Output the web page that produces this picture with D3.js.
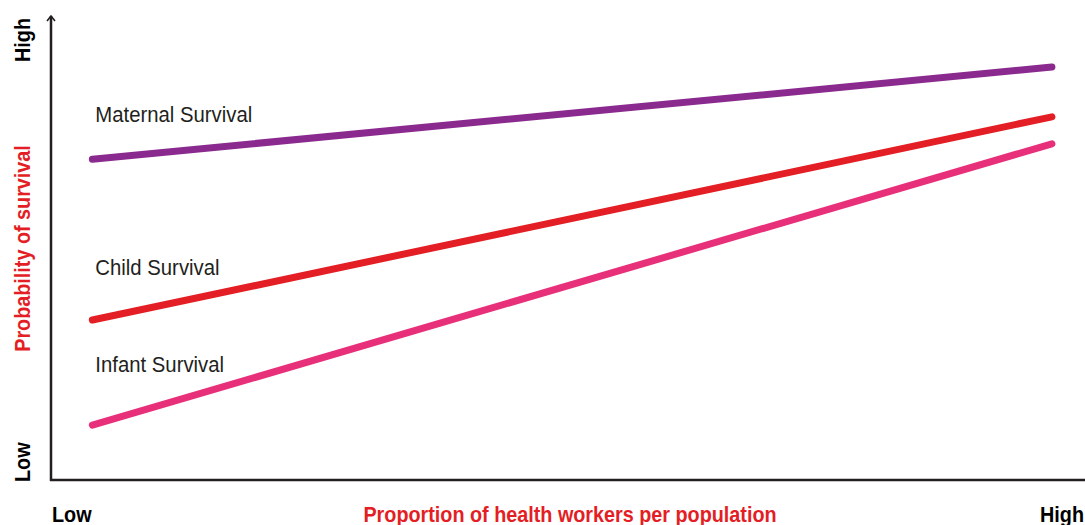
<!DOCTYPE html>
<html>
<head>
<meta charset="utf-8">
<script src="https://cdn.jsdelivr.net/npm/d3@7"></script>
<style>
  body { margin: 0; background: #fff; }
  text { font-family: 'Liberation Sans', Arial, sans-serif; }
</style>
</head>
<body>
<script>
const w = 1085
const h = 525

// two levels on the x axis: low and high workforce density
const xLevels = [0.04, 0.968]
const seriesNames = ['Maternal Survival', 'Child Survival', 'Infant Survival']
const maternal = [0.69, 0.888]
const child = [0.344, 0.781]
const infant = [0.118, 0.723]
const colors = ['#8b2a8e', '#e31e24', '#e8307a']
const labelY = [0.77, 0.441, 0.232]

const xScale = d3.scaleLinear().domain([0, 1]).range([51, 1085])
const yScale = d3.scaleLinear().domain([0, 1]).range([480, 15])

const svg = d3.select('body').append('svg').attr('width', w).attr('height', h)

// axes
svg.append('line')
  .attr('x1', xScale(0)).attr('x2', xScale(0))
  .attr('y1', yScale(0) + 1).attr('y2', yScale(1) + 1)
  .attr('stroke', '#231f20').attr('stroke-width', 2.5)
svg.append('path')
  .attr('d', `M${xScale(0) - 4},${yScale(1) + 6} L${xScale(0)},${yScale(1) + 1} L${xScale(0) + 4},${yScale(1) + 6}`)
  .attr('fill', 'none').attr('stroke', '#231f20').attr('stroke-width', 1.6)
svg.append('line')
  .attr('x1', xScale(0) - 1).attr('x2', xScale(1))
  .attr('y1', yScale(0)).attr('y2', yScale(0))
  .attr('stroke', '#231f20').attr('stroke-width', 2.5)

const line = d3.line().x((d, i) => xScale(xLevels[i])).y((d) => yScale(d))

// condensed text: placed by transform, squeezed horizontally
const label = (x, y, rot, sx, size, weight) =>
  svg.append('text')
    .attr('transform', `translate(${x},${y}) rotate(${rot}) scale(${sx},1)`)
    .attr('font-size', size)
    .attr('font-weight', weight)

const series = [maternal, child, infant]
series.forEach((s, i) => {
  svg.append('path')
    .attr('d', line(s))
    .attr('fill', 'none')
    .attr('stroke', colors[i])
    .attr('stroke-width', 7)
    .attr('stroke-linecap', 'round')

  label(xScale(xLevels[0]) + 3, yScale(labelY[i]), 0, 0.945, 21.5, 'normal')
    .attr('fill', '#231f20')
    .text(seriesNames[i])
})

// axis titles
label(30, yScale(1) + 3, -90, 0.9, 22, 'bold')
  .attr('text-anchor', 'end')
  .attr('fill', '#000')
  .text('High')
label(30, yScale(0) + 2, -90, 0.9, 22, 'bold')
  .attr('fill', '#000')
  .text('Low')
label(30, 248.5, -90, 0.9, 22, 'bold')
  .attr('text-anchor', 'middle')
  .attr('fill', '#e31e24')
  .text('Probability of survival')

label(52, 522, 0, 0.9, 22, 'bold')
  .attr('fill', '#000')
  .text('Low')
label(1084, 522, 0, 0.9, 22, 'bold')
  .attr('text-anchor', 'end')
  .attr('fill', '#000')
  .text('High')
label(570, 522, 0, 0.9, 22, 'bold')
  .attr('text-anchor', 'middle')
  .attr('fill', '#e31e24')
  .text('Proportion of health workers per population')
</script>
</body>
</html>
